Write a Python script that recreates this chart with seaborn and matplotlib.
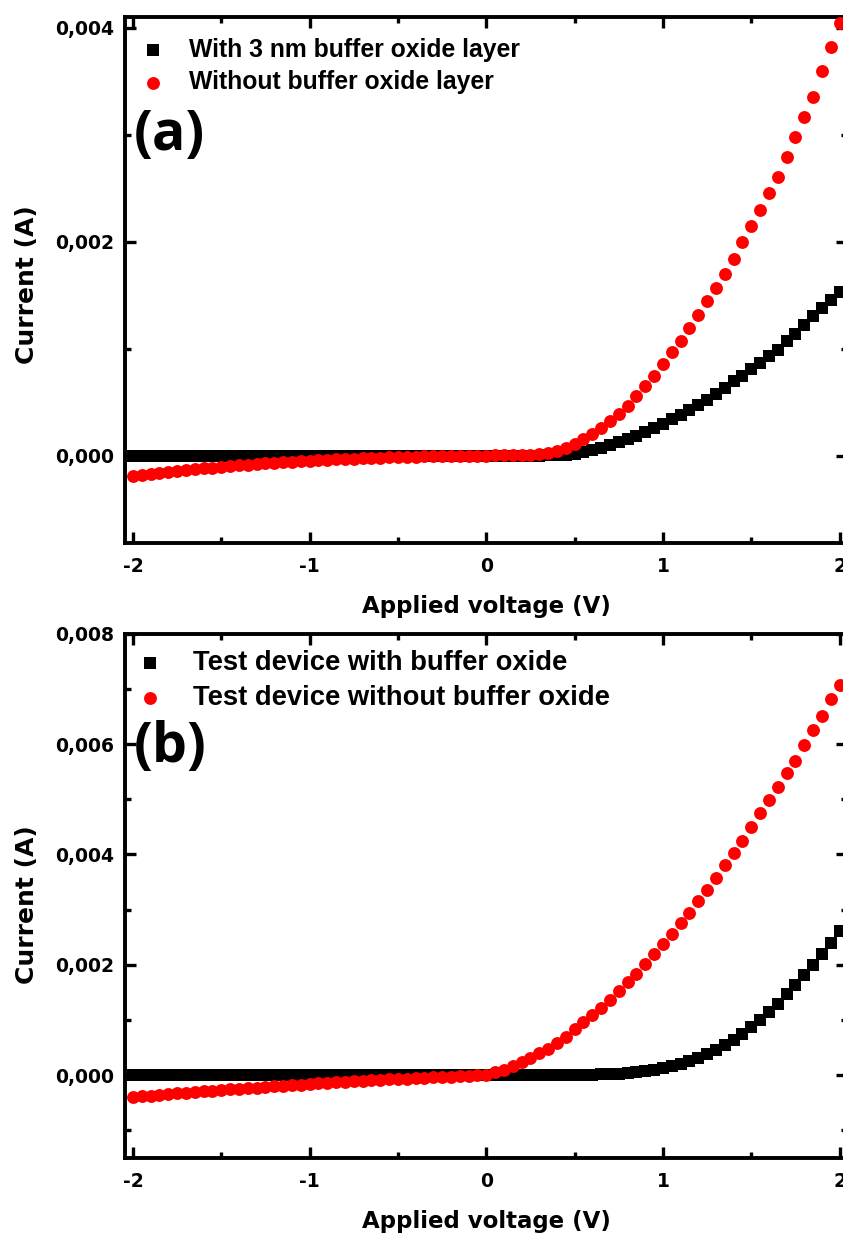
import matplotlib
matplotlib.use("Agg")
import matplotlib.pyplot as plt
import seaborn as sns
import pandas as pd
from matplotlib.ticker import MultipleLocator, FuncFormatter
from matplotlib.font_manager import FontProperties

# ---------------- data ----------------
voltage = [-2.00, -1.95, -1.90, -1.85, -1.80, -1.75, -1.70, -1.65, -1.60, -1.55,
           -1.50, -1.45, -1.40, -1.35, -1.30, -1.25, -1.20, -1.15, -1.10, -1.05,
           -1.00, -0.95, -0.90, -0.85, -0.80, -0.75, -0.70, -0.65, -0.60, -0.55,
           -0.50, -0.45, -0.40, -0.35, -0.30, -0.25, -0.20, -0.15, -0.10, -0.05,
           0.00, 0.05, 0.10, 0.15, 0.20, 0.25, 0.30, 0.35, 0.40, 0.45,
           0.50, 0.55, 0.60, 0.65, 0.70, 0.75, 0.80, 0.85, 0.90, 0.95,
           1.00, 1.05, 1.10, 1.15, 1.20, 1.25, 1.30, 1.35, 1.40, 1.45,
           1.50, 1.55, 1.60, 1.65, 1.70, 1.75, 1.80, 1.85, 1.90, 1.95,
           2.00]

# panel (a)
a_with = [0, 0, 0, 0, 0, 0, 0, 0, 0, 0,
          0, 0, 0, 0, 0, 0, 0, 0, 0, 0,
          0, 0, 0, 0, 0, 0, 0, 0, 0, 0,
          0, 0, 0, 0, 0, 0, 0, 0, 0, 0,
          0, 0, 0, 0, 0, 0, 0, 0.2e-5, 0.4e-5, 0.9e-5,
          1.9e-5, 3.1e-5, 5.0e-5, 7.2e-5, 9.7e-5, 1.25e-4, 1.56e-4, 1.87e-4, 2.21e-4, 2.59e-4,
          2.99e-4, 3.40e-4, 3.84e-4, 4.30e-4, 4.77e-4, 5.23e-4, 5.79e-4, 6.32e-4, 6.95e-4, 7.48e-4,
          8.10e-4, 8.66e-4, 9.28e-4, 9.91e-4, 1.068e-3, 1.140e-3, 1.218e-3, 1.302e-3, 1.380e-3, 1.452e-3,
          1.526e-3]

a_without = [-1.90e-4, -1.80e-4, -1.71e-4, -1.62e-4, -1.53e-4, -1.44e-4, -1.36e-4, -1.28e-4, -1.20e-4, -1.12e-4,
             -1.05e-4, -0.98e-4, -0.91e-4, -0.85e-4, -0.79e-4, -0.73e-4, -0.67e-4, -0.62e-4, -0.57e-4, -0.52e-4,
             -4.7e-5, -4.3e-5, -3.9e-5, -3.5e-5, -3.1e-5, -2.8e-5, -2.5e-5, -2.2e-5, -1.9e-5, -1.7e-5,
             -1.4e-5, -1.2e-5, -1.0e-5, -0.8e-5, -0.7e-5, -0.5e-5, -0.4e-5, -0.3e-5, -0.2e-5, -0.1e-5,
             0, 0.1e-5, 0.2e-5, 0.3e-5, 0.5e-5, 0.8e-5, 1.3e-5, 2.3e-5, 4.0e-5, 7.2e-5,
             1.12e-4, 1.56e-4, 2.03e-4, 2.59e-4, 3.21e-4, 3.90e-4, 4.67e-4, 5.54e-4, 6.54e-4, 7.48e-4,
             8.60e-4, 9.65e-4, 1.068e-3, 1.193e-3, 1.318e-3, 1.442e-3, 1.564e-3, 1.698e-3, 1.841e-3, 1.997e-3,
             2.143e-3, 2.293e-3, 2.458e-3, 2.607e-3, 2.794e-3, 2.981e-3, 3.168e-3, 3.355e-3, 3.598e-3, 3.822e-3,
             4.047e-3]

# panel (b)
b_with = [0, 0, 0, 0, 0, 0, 0, 0, 0, 0,
          0, 0, 0, 0, 0, 0, 0, 0, 0, 0,
          0, 0, 0, 0, 0, 0, 0, 0, 0, 0,
          0, 0, 0, 0, 0, 0, 0, 0, 0, 0,
          0, 0, 0, 0, 0, 0, 0, 0.1e-5, 0.2e-5, 0.3e-5,
          0.5e-5, 0.8e-5, 1.1e-5, 1.6e-5, 2.2e-5, 3.0e-5, 4.2e-5, 6.0e-5, 7.8e-5, 1.03e-4,
          1.39e-4, 1.68e-4, 2.12e-4, 2.59e-4, 3.20e-4, 3.92e-4, 4.65e-4, 5.42e-4, 6.45e-4, 7.54e-4,
          8.73e-4, 1.007e-3, 1.145e-3, 1.296e-3, 1.465e-3, 1.627e-3, 1.808e-3, 2.001e-3, 2.200e-3, 2.392e-3,
          2.609e-3]

b_without = [-3.98e-4, -3.84e-4, -3.70e-4, -3.57e-4, -3.44e-4, -3.31e-4, -3.18e-4, -3.06e-4, -2.94e-4, -2.82e-4,
             -2.70e-4, -2.58e-4, -2.47e-4, -2.36e-4, -2.25e-4, -2.14e-4, -2.03e-4, -1.92e-4, -1.81e-4, -1.70e-4,
             -1.60e-4, -1.50e-4, -1.40e-4, -1.30e-4, -1.21e-4, -1.12e-4, -1.03e-4, -0.94e-4, -0.85e-4, -0.76e-4,
             -6.8e-5, -6.0e-5, -5.2e-5, -4.5e-5, -3.8e-5, -3.1e-5, -2.4e-5, -1.7e-5, -1.0e-5, -0.4e-5,
             1.0e-5, 5.0e-5, 1.03e-4, 1.63e-4, 2.41e-4, 3.20e-4, 4.04e-4, 4.83e-4, 5.84e-4, 6.93e-4,
             8.30e-4, 9.62e-4, 1.098e-3, 1.224e-3, 1.369e-3, 1.524e-3, 1.687e-3, 1.839e-3, 2.020e-3, 2.201e-3,
             2.382e-3, 2.562e-3, 2.754e-3, 2.942e-3, 3.152e-3, 3.358e-3, 3.575e-3, 3.816e-3, 4.020e-3, 4.250e-3,
             4.490e-3, 4.743e-3, 4.985e-3, 5.226e-3, 5.467e-3, 5.696e-3, 5.980e-3, 6.251e-3, 6.510e-3, 6.812e-3,
             7.071e-3]

labels_a = ["With 3 nm buffer oxide layer", "Without buffer oxide layer"]
labels_b = ["Test device with buffer oxide", "Test device without buffer oxide"]
panel_tags = ["(a)", "(b)"]
x_label = "Applied voltage (V)"
y_label = "Current (A)"

# ---------------- style ----------------
sns.set_style("ticks")
plt.rcParams["font.family"] = ["DejaVu Sans"]
plt.rcParams["font.weight"] = "bold"
plt.rcParams["axes.unicode_minus"] = False
plt.rcParams["text.color"] = "black"
plt.rcParams["axes.labelcolor"] = "black"
plt.rcParams["xtick.color"] = "black"
plt.rcParams["ytick.color"] = "black"
plt.rcParams["xtick.labelcolor"] = "black"
plt.rcParams["ytick.labelcolor"] = "black"

fig = plt.figure(figsize=(8.43, 12.39), dpi=100)
W, H = 843.0, 1239.0

def axes_rect(left_px, right_px, top_px, bottom_px):
    return [left_px / W, 1 - bottom_px / H, (right_px - left_px) / W, (bottom_px - top_px) / H]

ax_a = fig.add_axes(axes_rect(125, 847.5, 17, 543.3))
ax_b = fig.add_axes(axes_rect(125, 847.5, 633.7, 1158))

df_a = pd.DataFrame({"V": voltage, "with": a_with, "without": a_without})
df_b = pd.DataFrame({"V": voltage, "with": b_with, "without": b_without})

ycomma = FuncFormatter(lambda v, p: f"{v:.3f}".replace(".", ","))
xint = FuncFormatter(lambda v, p: f"{v:.0f}")

lab_font = FontProperties(family="DejaVu Sans", weight="bold", size=16.5)
ylab_font = FontProperties(family="DejaVu Sans", weight="bold", size=18)
tag_font = FontProperties(family="Open Sans", weight="bold", size=40)

configs = [
    (ax_a, df_a, labels_a, panel_tags[0], (-0.00082, 0.0041), 17.8, (0.021, 0.961), 0.98, 0.36, 0.774, 0.491),
    (ax_b, df_b, labels_b, panel_tags[1], (-0.0015, 0.008), 19.7, (0.016, 0.969), 1.05, 0.32, 0.782, 0.483),
]

for ax, df, labs, tag, ylim, legsize, legpos, htp, lsp, tagy, ylaby in configs:
    sns.scatterplot(data=df, x="V", y="with", marker="s", color="black", s=66,
                    linewidth=0, ax=ax, label=labs[0], zorder=3)
    sns.scatterplot(data=df, x="V", y="without", marker="o", color="#ff0000", s=86,
                    linewidth=0, ax=ax, label=labs[1], zorder=4)
    ax.set_xlim(-2.045, 2.045)
    ax.set_ylim(*ylim)
    ax.xaxis.set_major_locator(MultipleLocator(1))
    ax.xaxis.set_minor_locator(MultipleLocator(0.5))
    ax.yaxis.set_major_locator(MultipleLocator(0.002))
    ax.yaxis.set_minor_locator(MultipleLocator(0.001))
    ax.yaxis.set_major_formatter(ycomma)
    ax.xaxis.set_major_formatter(xint)
    for sp in ax.spines.values():
        sp.set_linewidth(2.8)
        sp.set_color("black")
    ax.tick_params(which="both", direction="in", top=True, right=True, width=2.4,
                   color="black", labelcolor="black")
    ax.tick_params(which="major", length=8)
    ax.tick_params(which="minor", length=4.5)
    ax.tick_params(axis="y", which="major", pad=8, labelsize=13.5)
    ax.tick_params(axis="x", which="major", pad=10, labelsize=13.5)
    ax.set_xlabel(x_label, fontproperties=lab_font, color="black")
    ax.set_ylabel(y_label, fontproperties=ylab_font, color="black")
    ax.xaxis.set_label_coords(0.5, -0.121)
    ax.yaxis.set_label_coords(-0.136, ylaby)
    ax.xaxis.label.set_va("center")
    ax.yaxis.label.set_va("center")
    leg = ax.legend(loc="upper left", bbox_to_anchor=legpos, frameon=False,
                    prop=FontProperties(family="Liberation Sans", weight="bold", size=legsize),
                    handlelength=1.0, handletextpad=htp, labelspacing=lsp,
                    borderpad=0, borderaxespad=0, markerscale=1.0)
    for t in leg.get_texts():
        t.set_color("black")
    ax.text(0.012, tagy, tag, transform=ax.transAxes, fontproperties=tag_font,
            ha="left", va="center", color="black")

fig.savefig("out.png", dpi=100)
